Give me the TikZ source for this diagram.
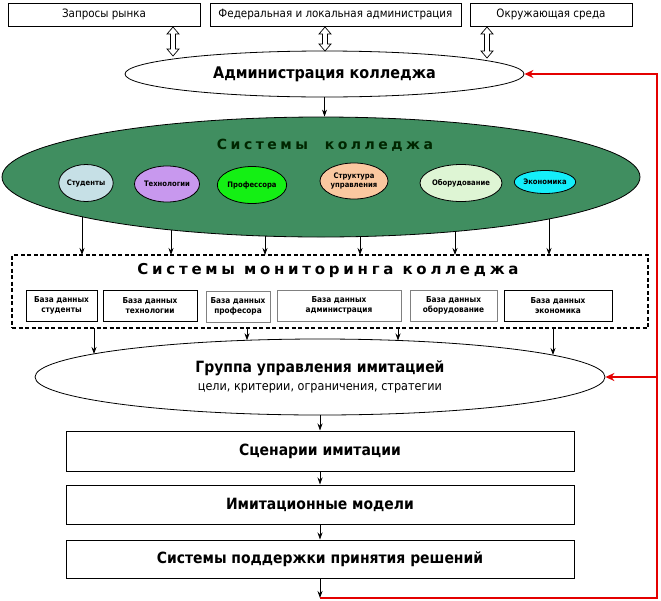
\documentclass[tikz,border=0pt]{standalone}
\usepackage{fontspec}
\setmainfont{DejaVu Sans Condensed}
\newfontfamily\wide[LetterSpace=25]{DejaVu Sans}
\usetikzlibrary{shapes.geometric,arrows.meta,calc}
\definecolor{gbig}{RGB}{64,142,96}
\definecolor{cstud}{RGB}{198,224,230}
\definecolor{ctech}{RGB}{200,152,238}
\definecolor{cprof}{RGB}{20,240,20}
\definecolor{cstr}{RGB}{250,200,160}
\definecolor{cobor}{RGB}{222,245,212}
\definecolor{cecon}{RGB}{20,238,250}
\definecolor{redl}{RGB}{228,0,0}
\newcommand\hollowarrow[2]{\filldraw[fill=white,draw=black,line width=0.7pt]
 ($(#1)+(-2.5,7)$) -- ($(#1)+(-6,7)$) -- (#1) -- ($(#1)+(6,7)$) -- ($(#1)+(2.5,7)$) --
 ($(#2)+(2.5,-7)$) -- ($(#2)+(6,-7)$) -- (#2) -- ($(#2)+(-6,-7)$) -- ($(#2)+(-2.5,-7)$) -- cycle;}
\begin{document}
\begin{tikzpicture}[x=1pt,y=-1pt,
  topbox/.style={draw,line width=0.8pt,minimum height=23,inner sep=0,font=\fontsize{11.5}{13}\selectfont},
  ell/.style={ellipse,draw,line width=0.8pt,fill=white,inner sep=0},
  small/.style={ellipse,draw,line width=0.8pt,inner sep=0,align=center,font=\fontsize{7.6}{9}\selectfont\bfseries},
  dbox/.style={draw,line width=0.9pt,minimum height=31,inner sep=0,align=center,fill=white,font=\fontsize{8.2}{10}\selectfont\bfseries},
  bigbox/.style={draw,line width=1pt,minimum width=508,inner sep=0,fill=white,font=\fontsize{15.5}{17}\selectfont\bfseries},
  arr/.style={-{Stealth[length=7pt,width=5pt]},line width=0.8pt},
  rarr/.style={redl,line width=2pt,-{Stealth[length=9pt,width=8pt]}}
]
\fill[white] (0,0) rectangle (661,600);
\useasboundingbox (0,0) rectangle (661,600);
% top boxes
\node[topbox,minimum width=192] (m1) at (104,14.5) {Запросы рынка};
\node[topbox,minimum width=251] (m2) at (335.5,14.5) {Федеральная и локальная администрация};
\node[topbox,minimum width=162] (m3) at (551,14.5) {Окружающая среда};
% admin ellipse
\node[ell,minimum width=399,minimum height=46,font=\fontsize{16}{18}\selectfont\bfseries] (adm) at (324.5,74) {Администрация колледжа};
\coordinate (d1a) at (173,27); \coordinate (d1b) at (173,56);
\coordinate (d2a) at (325,27); \coordinate (d2b) at (325,51);
\coordinate (d3a) at (487,27); \coordinate (d3b) at (487,58);
\hollowarrow{d1a}{d1b}
\hollowarrow{d2a}{d2b}
\hollowarrow{d3a}{d3b}
% green
\node[ellipse,draw,line width=0.8pt,fill=gbig,minimum width=638,minimum height=120,inner sep=0] (green) at (321,177) {};
\draw[arr] (adm.south) -- (adm.south |- green.north);
\node[font=\wide\fontsize{14}{16}\selectfont\bfseries,text=black!85!green] (gt) at (325,145) {Системы\ \ колледжа};
\node[small,fill=cstud,minimum width=48,minimum height=37] (s1) at (86,183) {Студенты};
\node[small,fill=ctech,minimum width=56,minimum height=36] (s2) at (167,184) {Технологии};
\node[small,fill=cprof,minimum width=56,minimum height=37] (s3) at (252,185) {Профессора};
\node[small,fill=cstr,minimum width=68,minimum height=36] (s4) at (354,181) {Структура\\управления};
\node[small,fill=cobor,minimum width=78,minimum height=37] (s5) at (461,183) {Оборудование};
\node[small,fill=cecon,minimum width=56,minimum height=23] (s6) at (545,182) {Экономика};
% monitoring
\node[draw,dashed,dash pattern=on 4pt off 2.5pt,line width=1.2pt,minimum width=636,minimum height=73,inner sep=0] (mon) at (330,291.5) {};
\node[font=\wide\fontsize{15}{17}\selectfont\bfseries] (mt) at (328,270) {Системы мониторинга колледжа};
\foreach \x/\y [count=\i] in {82/216.7,171/230,265/236,360/236.5,455/231.4,549/219}{
  \coordinate (ga\i) at (\x,\y);
  \coordinate (gb\i) at (\x,255);
  \draw[arr] (ga\i) -- (gb\i);
}
\node[dbox,minimum width=71] (b1) at (61.5,305.5) {База данных\\студенты};
\node[dbox,minimum width=94] (b2) at (150,305.5) {База данных\\технологии};
\node[dbox,draw=gray,minimum width=64] (b3) at (238,306.5) {База данных\\професора};
\node[dbox,draw=gray,minimum width=124] (b4) at (339,305.5) {База данных\\администрация};
\node[dbox,draw=gray,minimum width=87] (b5) at (453.5,305.5) {База данных\\оборудование};
\node[dbox,minimum width=108] (b6) at (558,306) {База данных\\экономика};
% group ellipse
\node[ell,minimum width=570,minimum height=76,align=center] (grp) at (320,377)
 {{\fontsize{15.5}{17}\selectfont\bfseries Группа управления имитацией}\\[6pt]
  {\fontsize{12.5}{14}\selectfont цели, критерии, ограничения, стратегии}};
\foreach \x/\y [count=\i] in {94/354,247/340.3,398/340.5,553/355}{
  \coordinate (ma\i) at (\x,328);
  \coordinate (mb\i) at (\x,\y);
  \draw[arr] (ma\i) -- (mb\i);
}
% bottom boxes
\node[bigbox,minimum height=40] (sc) at (320,451) {Сценарии имитации};
\node[bigbox,minimum height=39] (im) at (320,504.5) {Имитационные модели};
\node[bigbox,minimum height=38] (sp) at (320,559) {Системы поддержки принятия решений};
\draw[arr] (grp.south) -- (sc.north);
\draw[arr] (sc.south) -- (im.north);
\draw[arr] (im.south) -- (sp.north);
\coordinate (r0) at (320,598);
\coordinate (rc) at (657,598);
\draw[arr] (sp.south) -- (r0);
\draw[rarr] (r0) -- (rc) -- (rc |- adm.east) -- (adm.east);
\draw[rarr] (rc |- grp.east) -- (grp.east);
\end{tikzpicture}
\end{document}
